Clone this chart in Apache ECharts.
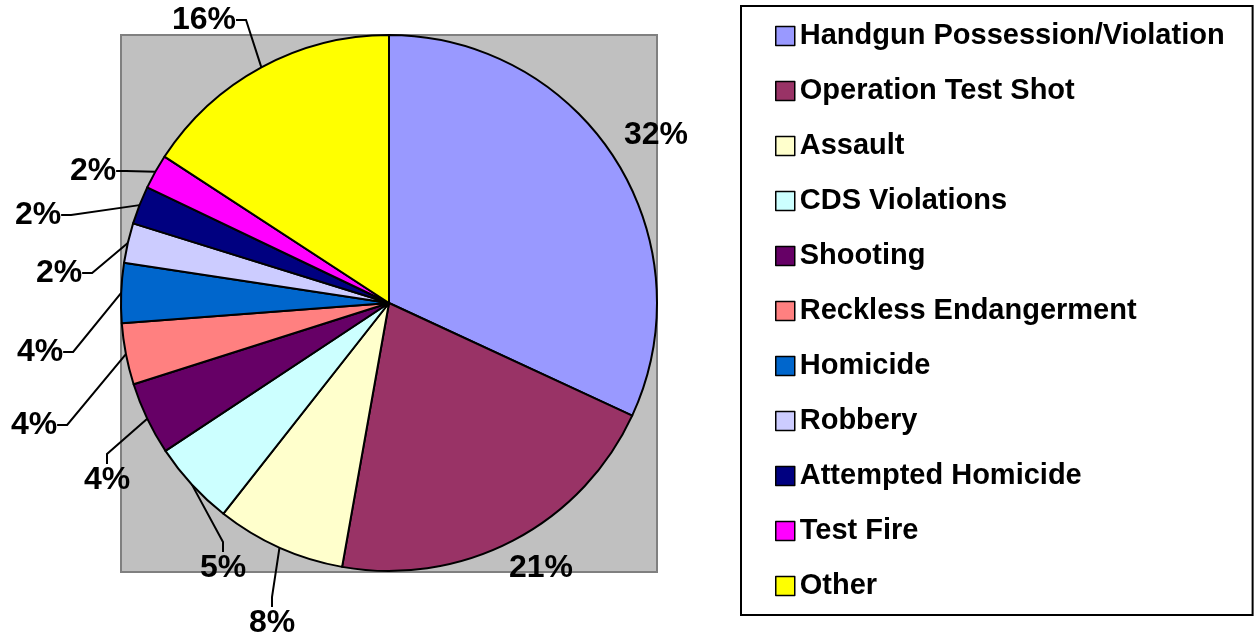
<!DOCTYPE html>
<html>
<head>
<meta charset="utf-8">
<style>
  html, body { margin: 0; padding: 0; background: #fff; }
  #pieChart { width: 1260px; height: 640px; }
</style>
<script src="https://cdn.jsdelivr.net/npm/echarts@6/dist/echarts.min.js"></script>
</head>
<body>
<div id="pieChart"></div>
<script>
// data (share of cases, %)
var categories = ['Handgun Possession/Violation', 'Operation Test Shot', 'Assault', 'CDS Violations',
  'Shooting', 'Reckless Endangerment', 'Homicide', 'Robbery', 'Attempted Homicide', 'Test Fire', 'Other'];
var shares = [31.9, 20.9, 7.8, 5.1, 4.4, 3.7, 3.6, 2.4, 2.3, 2.1, 15.8];

// old excel palette
var sliceColors = ['#9999FF', '#993366', '#FFFFCC', '#CCFFFF', '#660066', '#FF8080',
  '#0066CC', '#CCCCFF', '#000080', '#FF00FF', '#FFFF00'];

// where each % label sits (centre), like in the original
var labelSpots = [[656, 135], [541, 568], [272, 623], [223, 568], [107, 480], [34, 425],
  [40, 352], [59, 273], [38, 215], [93, 171], [204, 20]];
var FONT = 'Arial, "Liberation Sans", sans-serif';

var chart = echarts.init(document.getElementById('pieChart'));
var option = {
  animation: false,
  graphic: [{
    type: 'rect', z: 0,
    shape: { x: 121, y: 35, width: 536, height: 537 },
    style: { fill: '#C0C0C0', stroke: '#808080', lineWidth: 2 }
  }],
  legend: {
    orient: 'vertical',
    left: 741,
    top: 6,
    padding: [15, 28, 14, 34],
    itemGap: 25,
    itemWidth: 19,
    itemHeight: 19,
    icon: 'rect',
    selectedMode: false,
    borderColor: '#000',
    borderWidth: 2,
    itemStyle: { borderColor: '#000', borderWidth: 1.5 },
    textStyle: { fontFamily: FONT, fontSize: 29, fontWeight: 'bold', color: '#000', lineHeight: 30 },
    data: categories
  },
  series: [{
    type: 'pie',
    center: [389, 303],
    radius: 268,
    startAngle: 90,
    clockwise: true,
    avoidLabelOverlap: false,
    itemStyle: { borderColor: '#000', borderWidth: 2 },
    emphasis: { disabled: true },
    label: {
      show: true,
      position: 'outside',
      fontFamily: FONT,
      fontSize: 32,
      fontWeight: 'bold',
      color: '#000',
      formatter: function (p) { return Math.round(p.percent) + '%'; }
    },
    labelLine: { show: true, length: 10, length2: 10, lineStyle: { color: '#000', width: 2 } },
    labelLayout: function (p) {
      var s = labelSpots[p.dataIndex];
      return { x: s[0], y: s[1], align: 'center', verticalAlign: 'middle' };
    },
    data: categories.map(function (name, i) {
      var item = { name: name, value: shares[i], itemStyle: { color: sliceColors[i] } };
      if (i < 2) item.labelLine = { show: false };
      return item;
    })
  }]
};
chart.setOption(option);
</script>
</body>
</html>
